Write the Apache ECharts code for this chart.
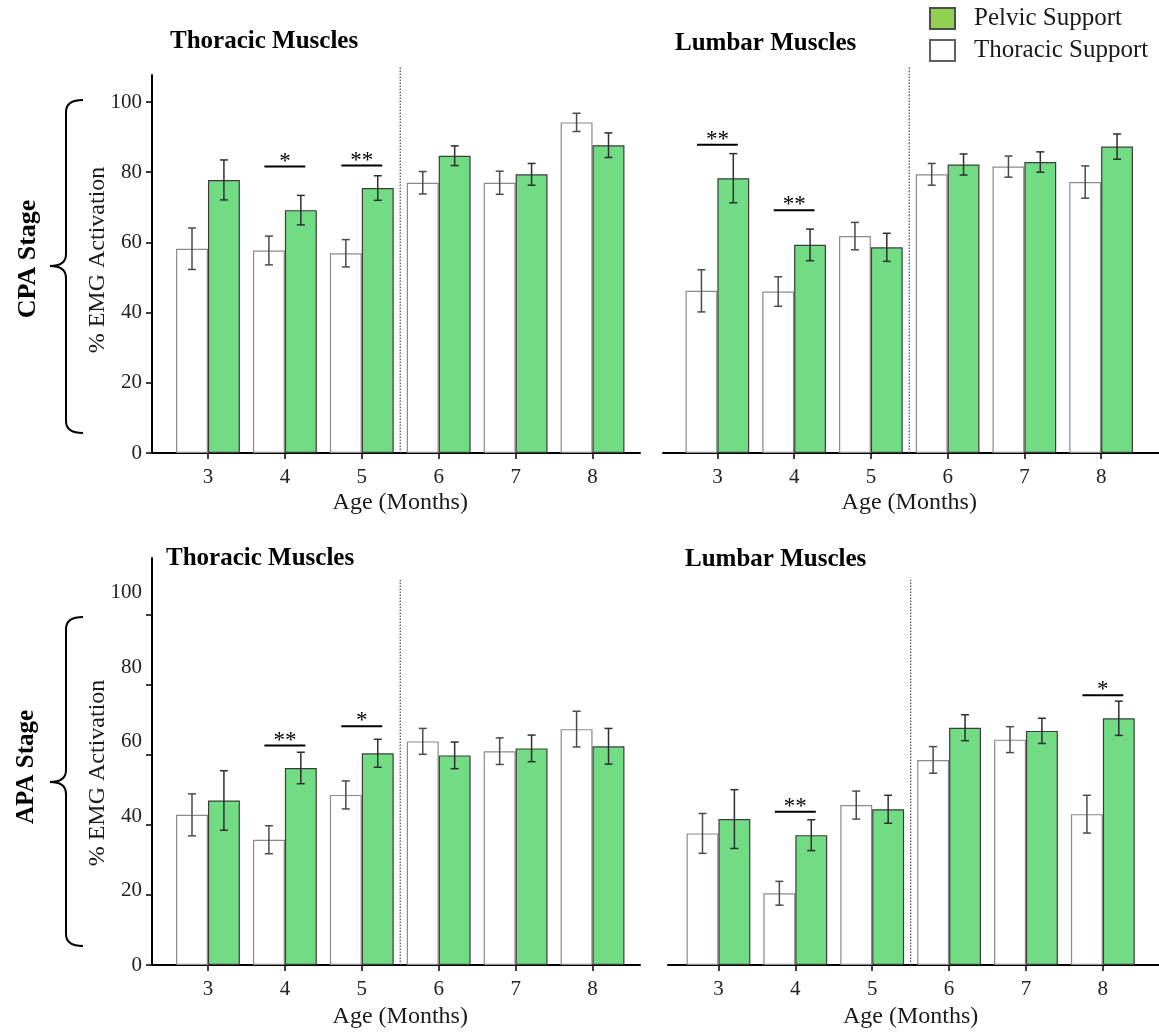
<!DOCTYPE html>
<html>
<head>
<meta charset="utf-8">
<script src="https://cdn.jsdelivr.net/npm/echarts@6/dist/echarts.min.js"></script>
<style>
  html, body { margin: 0; padding: 0; background: #fff; }
  #chart { width: 1159px; height: 1032px; }
</style>
</head>
<body>
<div id="chart"></div>
<script>
// ---- data -------------------------------------------------------------
const months = ['3', '4', '5', '6', '7', '8'];
const yTicks = [0, 20, 40, 60, 80, 100];

// CPA stage, thoracic muscles
const cpaThoracicThorSup    = [58.2, 57.7, 56.9, 77.0, 77.0, 94.2];
const cpaThoracicThorSupErr = [5.9, 4.1, 3.9, 3.2, 3.3, 2.6];
const cpaThoracicPelvSup    = [77.8, 69.2, 75.5, 84.7, 79.4, 87.7];
const cpaThoracicPelvSupErr = [5.7, 4.2, 3.5, 2.8, 3.1, 3.5];
const cpaThoracicSig        = [[1, 81.6, '*'], [2, 81.9, '**']];

// CPA stage, lumbar muscles
const cpaLumbarThorSup    = [46.2, 46.0, 61.8, 79.4, 81.6, 77.2];
const cpaLumbarThorSupErr = [6.0, 4.2, 3.9, 3.1, 3.0, 4.6];
const cpaLumbarPelvSup    = [78.3, 59.3, 58.6, 82.2, 82.9, 87.3];
const cpaLumbarPelvSupErr = [7.0, 4.5, 4.0, 3.0, 2.9, 3.6];
const cpaLumbarSig        = [[0, 87.8, '**'], [1, 69.2, '**']];

// APA stage, thoracic muscles
const apaThoracicThorSup    = [42.9, 35.8, 48.6, 63.9, 61.1, 67.4];
const apaThoracicThorSupErr = [6.0, 4.0, 4.0, 3.7, 3.8, 5.1];
const apaThoracicPelvSup    = [47.0, 56.3, 60.5, 59.9, 61.9, 62.5];
const apaThoracicPelvSupErr = [8.5, 4.5, 4.0, 3.8, 3.8, 5.1];
const apaThoracicSig        = [[1, 62.7, '**'], [2, 68.2, '*']];

// APA stage, lumbar muscles
const apaLumbarThorSup    = [37.6, 20.5, 45.7, 58.6, 64.4, 43.1];
const apaLumbarThorSupErr = [5.7, 3.4, 4.0, 3.8, 3.7, 5.4];
const apaLumbarPelvSup    = [41.7, 37.1, 44.5, 67.8, 66.9, 70.5];
const apaLumbarPelvSupErr = [8.4, 4.4, 4.0, 3.7, 3.6, 4.9];
const apaLumbarSig        = [[1, 43.8, '**'], [5, 77.1, '*']];

// the dotted separator sits after the 5-month group
const dividerAfter = 2;
const dividerTop = 110;

// ---- panel assembly ---------------------------------------------------
const panels = [
  { title: 'Thoracic Muscles', thor: cpaThoracicThorSup, thorErr: cpaThoracicThorSupErr,
    pelv: cpaThoracicPelvSup, pelvErr: cpaThoracicPelvSupErr, sig: cpaThoracicSig },
  { title: 'Lumbar Muscles', thor: cpaLumbarThorSup, thorErr: cpaLumbarThorSupErr,
    pelv: cpaLumbarPelvSup, pelvErr: cpaLumbarPelvSupErr, sig: cpaLumbarSig },
  { title: 'Thoracic Muscles', thor: apaThoracicThorSup, thorErr: apaThoracicThorSupErr,
    pelv: apaThoracicPelvSup, pelvErr: apaThoracicPelvSupErr, sig: apaThoracicSig },
  { title: 'Lumbar Muscles', thor: apaLumbarThorSup, thorErr: apaLumbarThorSupErr,
    pelv: apaLumbarPelvSup, pelvErr: apaLumbarPelvSupErr, sig: apaLumbarSig }
];

// geometry of each panel (bar area, axis-line area, vertical range)
const layouts = [
  { barLeft: 169.5, barWidth: 461.5, axisLeft: 152, axisWidth: 488, top: 75, height: 378,
    yMax: 107.7, showY: true, labelMax: null, nameGap: 38, titleX: 170, titleY: 42 },
  { barLeft: 679, barWidth: 460.5, axisLeft: 663, axisWidth: 496, top: 75, height: 378,
    yMax: 107.7, showY: false, labelMax: null, nameGap: 38, titleX: 675, titleY: 44 },
  { barLeft: 169.5, barWidth: 461.5, axisLeft: 152, axisWidth: 488, top: 558, height: 407,
    yMax: 116.3, showY: true, labelMax: 109.4, nameGap: 40, titleX: 166, titleY: 559 },
  { barLeft: 680, barWidth: 461.3, axisLeft: 668, axisWidth: 491, top: 558, height: 407,
    yMax: 116.3, showY: false, labelMax: null, nameGap: 40, titleX: 685, titleY: 560 }
];

const SERIF = "'Liberation Serif', 'Times New Roman', serif";
const CAT_GAP = 0.17;
const GREEN = '#71dc84';
const TEXT = '#1a1a1a';

function barWidthPx(api) {
  return api.size([1, 0])[0] * (1 - CAT_GAP) / 2;
}

// error bars centred on the left (-1) or right (+1) bar of each group
function errorBars(side, color) {
  return function (params, api) {
    const cat = api.value(0), v = api.value(1), e = api.value(2);
    const x = api.coord([cat, 0])[0] + side * barWidthPx(api) / 2;
    const yHi = api.coord([cat, v + e])[1];
    const yLo = api.coord([cat, v - e])[1];
    const cap = 4;
    const style = { stroke: color, lineWidth: 1.5, fill: null };
    return {
      type: 'group',
      children: [
        { type: 'line', shape: { x1: x, y1: yHi, x2: x, y2: yLo }, style },
        { type: 'line', shape: { x1: x - cap, y1: yHi, x2: x + cap, y2: yHi }, style },
        { type: 'line', shape: { x1: x - cap, y1: yLo, x2: x + cap, y2: yLo }, style }
      ]
    };
  };
}

// significance bracket with asterisks
function sigMarks(sig) {
  return function (params, api) {
    const s = sig[params.dataIndex];
    const [cx, cy] = api.coord([api.value(0), api.value(1)]);
    const half = api.size([1, 0])[0] * 0.266;
    return {
      type: 'group',
      children: [
        { type: 'line', shape: { x1: cx - half, y1: cy, x2: cx + half, y2: cy },
          style: { stroke: '#000', lineWidth: 2 } },
        { type: 'text', x: cx, y: cy - 5,
          style: { text: s[2], fill: '#000', font: '23px ' + SERIF,
                   align: 'center', verticalAlign: 'middle' } }
      ]
    };
  };
}

function dividerLine(params, api) {
  const idx = api.value(0);
  const x = api.coord([idx, 0])[0] + api.size([1, 0])[0] / 2;
  const y0 = api.coord([idx, 0])[1];
  const y1 = api.coord([idx, api.value(1)])[1];
  return {
    type: 'line',
    shape: { x1: x, y1: y0, x2: x, y2: y1 },
    style: { stroke: '#555', lineWidth: 1.3, lineDash: [1.5, 1.5] }
  };
}

const grids = [], xAxes = [], yAxes = [], series = [], titles = [];
const labelStyle = { fontSize: 21, fontFamily: SERIF, color: '#222' };

panels.forEach((p, i) => {
  const L = layouts[i];
  const gA = grids.length;
  grids.push({ left: L.barLeft, width: L.barWidth, top: L.top, height: L.height,
               containLabel: false, outerBoundsMode: 'none' });
  grids.push({ left: L.axisLeft, width: L.axisWidth, top: L.top, height: L.height,
               containLabel: false, outerBoundsMode: 'none' });

  const xA = xAxes.length;
  xAxes.push({
    type: 'category', gridIndex: gA, data: months, boundaryGap: true,
    axisLine: { show: false },
    axisTick: { show: true, alignWithLabel: true, length: 6, lineStyle: { color: '#000', width: 1.5 } },
    axisLabel: Object.assign({ margin: 14 }, labelStyle),
    splitLine: { show: false },
    name: 'Age (Months)', nameLocation: 'middle', nameGap: L.nameGap,
    nameTextStyle: { fontSize: 24, fontFamily: SERIF, color: TEXT }
  });
  xAxes.push({
    type: 'value', gridIndex: gA + 1, min: 0, max: 1,
    axisLine: { show: true, lineStyle: { color: '#000', width: 2 } },
    axisTick: { show: false }, axisLabel: { show: false }, splitLine: { show: false }
  });

  const yA = yAxes.length;
  yAxes.push({ type: 'value', gridIndex: gA, min: 0, max: L.yMax, show: false, splitLine: { show: false } });
  yAxes.push({
    type: 'value', gridIndex: gA + 1, min: 0, max: L.yMax, position: 'left', show: L.showY,
    axisLine: { show: true, lineStyle: { color: '#000', width: 2 } },
    axisTick: { show: true, length: 6, customValues: yTicks, lineStyle: { color: '#000', width: 1.5 } },
    axisLabel: Object.assign({ show: !L.labelMax, customValues: yTicks, margin: 10 }, labelStyle),
    splitLine: { show: false }
  });
  if (L.labelMax) {
    // tick labels of this panel are set on their own slightly wider scale
    yAxes.push({
      type: 'value', gridIndex: gA + 1, min: 0, max: L.labelMax, position: 'left',
      axisLine: { show: false }, axisTick: { show: false },
      axisLabel: Object.assign({ customValues: yTicks, margin: 10 }, labelStyle),
      splitLine: { show: false }
    });
  }

  const common = { xAxisIndex: xA, yAxisIndex: yA, animation: false, emphasis: { disabled: true }, silent: true };
  series.push(Object.assign({
    type: 'bar', name: 'Thoracic Support', data: p.thor, barGap: '0%', barCategoryGap: '17%',
    itemStyle: { color: '#ffffff', borderColor: '#8a8a8a', borderWidth: 1.2 }
  }, common));
  series.push(Object.assign({
    type: 'bar', name: 'Pelvic Support', data: p.pelv, barGap: '0%', barCategoryGap: '17%',
    itemStyle: { color: GREEN, borderColor: '#3c3c3c', borderWidth: 1.2 }
  }, common));
  series.push(Object.assign({
    type: 'custom', name: 'Thoracic Support', z: 3, renderItem: errorBars(-1, '#4a4a4a'),
    data: p.thor.map((v, k) => [k, v, p.thorErr[k]])
  }, common));
  series.push(Object.assign({
    type: 'custom', name: 'Pelvic Support', z: 3, renderItem: errorBars(1, '#2e2e2e'),
    data: p.pelv.map((v, k) => [k, v, p.pelvErr[k]])
  }, common));
  series.push(Object.assign({
    type: 'custom', z: 4, renderItem: sigMarks(p.sig),
    data: p.sig.map(s => [s[0], s[1]])
  }, common));
  series.push(Object.assign({
    type: 'custom', z: 2, renderItem: dividerLine,
    data: [[dividerAfter, dividerTop]]
  }, common));

  titles.push({
    text: p.title, left: L.titleX, top: L.titleY - 12.5, padding: 0,
    textStyle: { fontFamily: SERIF, fontSize: 25, fontWeight: 'bold', color: '#000' }
  });
});

// curly brace grouping the panels of one stage
function brace(x, yTop, yTip, yBot) {
  const s = { stroke: '#000', lineWidth: 2, fill: null };
  const r = 12, arm = 17, tip = 16;
  return {
    type: 'group', silent: true,
    children: [
      { type: 'bezierCurve', shape: { x1: x + arm, y1: yTop, cpx1: x, cpy1: yTop, x2: x, y2: yTop + r }, style: s },
      { type: 'line', shape: { x1: x, y1: yTop + r, x2: x, y2: yTip - r }, style: s },
      { type: 'bezierCurve', shape: { x1: x, y1: yTip - r, cpx1: x, cpy1: yTip, x2: x - tip, y2: yTip }, style: s },
      { type: 'bezierCurve', shape: { x1: x - tip, y1: yTip, cpx1: x, cpy1: yTip, x2: x, y2: yTip + r }, style: s },
      { type: 'line', shape: { x1: x, y1: yTip + r, x2: x, y2: yBot - r }, style: s },
      { type: 'bezierCurve', shape: { x1: x, y1: yBot - r, cpx1: x, cpy1: yBot, x2: x + arm, y2: yBot }, style: s }
    ]
  };
}

function vText(text, x, y, size, weight) {
  return {
    type: 'text', x, y, rotation: Math.PI / 2, silent: true,
    style: { text, font: weight + ' ' + size + 'px ' + SERIF, fill: weight === 'bold' ? '#000' : TEXT,
             align: 'center', verticalAlign: 'middle' }
  };
}

const option = {
  backgroundColor: '#ffffff',
  animation: false,
  title: titles,
  legend: {
    orient: 'vertical', left: 929, top: 6, padding: 0,
    itemWidth: 25, itemHeight: 21, itemGap: 7, icon: 'rect',
    selectedMode: false,
    textStyle: { fontFamily: SERIF, fontSize: 25, color: TEXT, padding: [0, 0, 0, 14] },
    data: [
      { name: 'Pelvic Support', itemStyle: { color: '#92d050', borderColor: '#4d4d4d', borderWidth: 2 } },
      { name: 'Thoracic Support', itemStyle: { color: '#ffffff', borderColor: '#606060', borderWidth: 2 } }
    ]
  },
  grid: grids,
  xAxis: xAxes,
  yAxis: yAxes,
  series: series,
  graphic: [
    brace(66, 100, 266, 433),
    brace(66, 617, 782, 946),
    vText('CPA Stage', 28, 259, 26, 'bold'),
    vText('APA Stage', 27, 767, 25, 'bold'),
    vText('% EMG Activation', 98, 260, 24, 'normal'),
    vText('% EMG Activation', 98, 773, 24, 'normal')
  ]
};

const chart = echarts.init(document.getElementById('chart'), null, { renderer: 'canvas' });
chart.setOption(option);
</script>
</body>
</html>
